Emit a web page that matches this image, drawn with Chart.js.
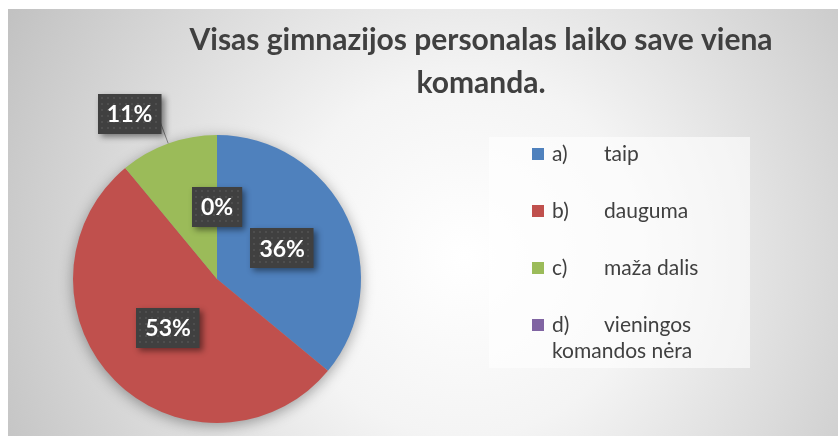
<!DOCTYPE html>
<html>
<head>
<meta charset="utf-8">
<script src="https://cdn.jsdelivr.net/npm/chart.js@4.4.0/dist/chart.umd.min.js"></script>
<style>
  html, body { margin: 0; padding: 0; background: #fff; }
  .chart-box { position: absolute; left: 8px; top: 9px; width: 830px; height: 427px; }
</style>
</head>
<body>
<div class="chart-box"><canvas id="team-chart"></canvas></div>
<script>
const title_lines = ["Visas gimnazijos personalas laiko save viena", "komanda."];
const categories = ["a)\ttaip", "b)\tdauguma", "c)\tmaža dalis", "d)\tvieningos komandos nėra"];
const shares = [36, 53, 11, 0];
const slice_colors = ["#4F81BD", "#C0504D", "#9BBB59", "#8064A2"];

// grey radial backdrop
const backdrop = {
  id: "backdrop",
  beforeDraw(chart) {
    const { ctx, width, height } = chart;
    const g = ctx.createRadialGradient(width * 0.55, height * 0.58, 0, width * 0.55, height * 0.58, width * 0.62);
    g.addColorStop(0, "#ffffff");
    g.addColorStop(0.35, "#f4f4f4");
    g.addColorStop(1, "#c2c2c2");
    ctx.save();
    ctx.fillStyle = g;
    ctx.fillRect(0, 0, width, height);
    ctx.restore();
  },
};

// soft shadow under the whole pie
const pieShadow = {
  id: "pieShadow",
  beforeDatasetsDraw(chart) {
    const arc = chart.getDatasetMeta(0).data[0];
    if (!arc) return;
    const { x, y, outerRadius } = arc.getProps(["x", "y", "outerRadius"], true);
    const ctx = chart.ctx;
    ctx.save();
    ctx.shadowColor = "rgba(0,0,0,0.35)";
    ctx.shadowBlur = 14;
    ctx.shadowOffsetX = 3000;
    ctx.shadowOffsetY = 3;
    ctx.fillStyle = "#000";
    ctx.beginPath();
    ctx.arc(x - 3000, y, outerRadius, 0, Math.PI * 2);
    ctx.fill();
    ctx.restore();
  },
};

const chartTitle = {
  id: "chartTitle",
  afterDraw(chart, args, opts) {
    const ctx = chart.ctx;
    ctx.save();
    ctx.fillStyle = "#404040";
    ctx.font = "bold 30px Lato";
    ctx.textAlign = "center";
    ctx.textBaseline = "alphabetic";
    title_lines.forEach((line, i) => {
      ctx.fillText(line, opts.x, opts.y + i * opts.lineHeight);
    });
    ctx.restore();
  },
};

// dark value boxes
const valueBoxes = {
  id: "valueBoxes",
  afterDatasetsDraw(chart, args, opts) {
    const ctx = chart.ctx;
    const meta = chart.getDatasetMeta(0);
    meta.data.forEach((arc, i) => {
      const p = arc.getProps(["x", "y", "startAngle", "endAngle", "outerRadius"], true);
      const mid = (p.startAngle + p.endAngle) / 2;
      const place = opts.place[i];
      const r = p.outerRadius * place.radius;
      const lx = p.x + Math.cos(mid) * r + (place.dx || 0);
      const ly = p.y + Math.sin(mid) * r + (place.dy || 0);
      const text = shares[i] + "%";
      ctx.save();
      ctx.font = "bold 23px Lato";
      const w = ctx.measureText(text).width + 18;
      const h = 40;
      const bx = Math.round(lx - w / 2), by = Math.round(ly - h / 2);
      if (place.leader) {
        ctx.strokeStyle = "#7f7f7f";
        ctx.lineWidth = 1;
        ctx.beginPath();
        ctx.moveTo(p.x + Math.cos(mid) * p.outerRadius, p.y + Math.sin(mid) * p.outerRadius);
        ctx.lineTo(bx + w - 1, ly + 9);
        ctx.stroke();
      }
      ctx.shadowColor = "rgba(0,0,0,0.45)";
      ctx.shadowBlur = 6;
      ctx.shadowOffsetX = 3;
      ctx.shadowOffsetY = 3;
      ctx.fillStyle = "#404040";
      ctx.fillRect(bx, by, w, h);
      ctx.shadowColor = "transparent";
      ctx.fillStyle = "#4e4e4e";
      for (let yy = by + 3; yy < by + h - 1; yy += 6) {
        for (let xx = bx + 3; xx < bx + w - 1; xx += 6) {
          ctx.fillRect(xx, yy, 2, 2);
        }
      }
      ctx.fillStyle = "#ffffff";
      ctx.textAlign = "center";
      ctx.textBaseline = "middle";
      ctx.fillText(text, lx, ly + 1);
      ctx.restore();
    });
  },
};

const sideLegend = {
  id: "sideLegend",
  afterDraw(chart, args, opts) {
    const ctx = chart.ctx;
    ctx.save();
    ctx.fillStyle = "rgba(255,255,255,0.6)";
    ctx.fillRect(opts.box.x, opts.box.y, opts.box.w, opts.box.h);
    ctx.font = "21px Lato";
    ctx.textBaseline = "middle";
    ctx.fillStyle = "#404040";
    categories.forEach((label, i) => {
      const cy = opts.top + i * opts.rowGap;
      ctx.fillStyle = slice_colors[i];
      ctx.fillRect(opts.markerX, cy - 6, 12, 12);
      ctx.fillStyle = "#404040";
      const [prefix, rest] = label.split("\t");
      ctx.fillText(prefix, opts.textX, cy);
      // wrap the rest of the label inside the box
      const words = rest.split(" ");
      let line = "", x = opts.tabX, y = cy;
      words.forEach((word) => {
        const test = line ? line + " " + word : word;
        if (line && x + ctx.measureText(test).width > opts.maxX) {
          ctx.fillText(line, x, y);
          line = word;
          x = opts.textX;
          y += opts.lineGap;
        } else {
          line = test;
        }
      });
      ctx.fillText(line, x, y);
    });
    ctx.restore();
  },
};

document.addEventListener("DOMContentLoaded", function () {
  const team_chart = document.getElementById("team-chart");
  new Chart(team_chart, {
    type: "pie",
    data: {
      labels: categories,
      datasets: [
        {
          data: shares,
          backgroundColor: slice_colors,
          borderWidth: 0,
        },
      ],
    },
    plugins: [backdrop, pieShadow, valueBoxes, chartTitle, sideLegend],
    options: {
      responsive: true,
      maintainAspectRatio: false,
      animation: false,
      layout: {
        padding: { left: 65, right: 477, top: 126, bottom: 13 },
      },
      plugins: {
        legend: { display: false },
        tooltip: { enabled: false },
        chartTitle: { x: 473, y: 41, lineHeight: 43 },
        valueBoxes: {
          place: [
            { radius: 0.5 },
            { radius: 0.48 },
            { radius: 1.3, dx: -24, dy: 11, leader: true },
            { radius: 0.5 },
          ],
        },
        sideLegend: {
          box: { x: 481, y: 128, w: 261, h: 231 },
          markerX: 524,
          textX: 544,
          tabX: 596,
          maxX: 725,
          top: 145,
          rowGap: 57,
          lineGap: 26,
        },
      },
    },
  });
});
</script>
</body>
</html>
